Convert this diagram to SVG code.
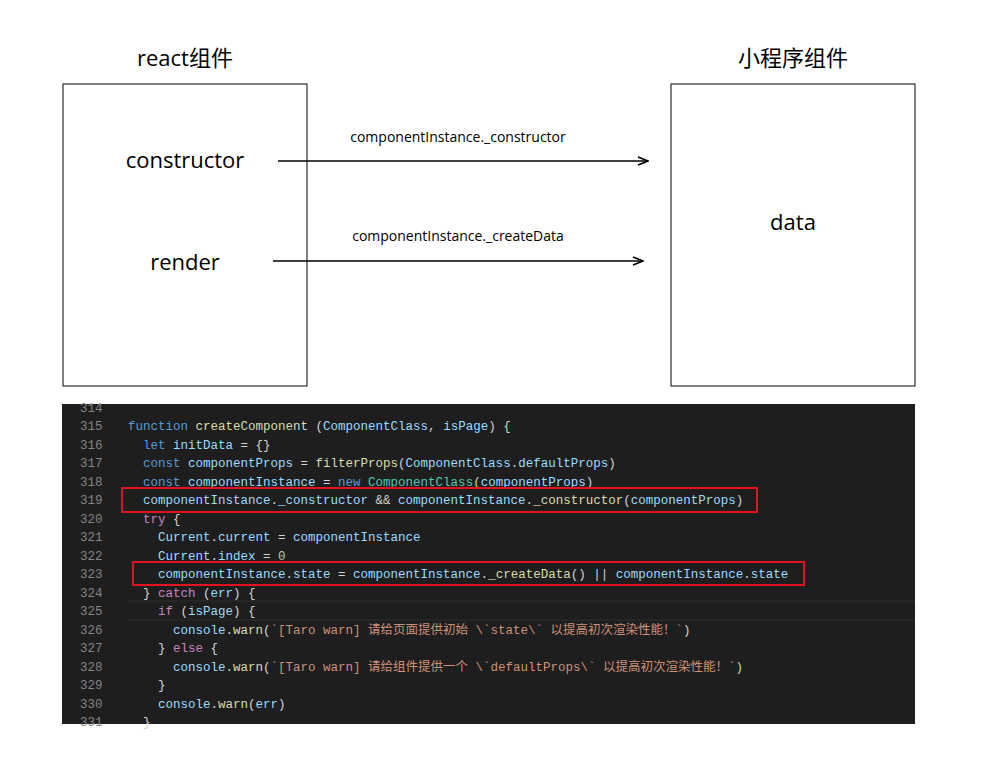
<svg xmlns="http://www.w3.org/2000/svg" width="985" height="761" viewBox="0 0 985 761">
<defs>
<marker id="ah" markerWidth="12" markerHeight="10" refX="11" refY="5" orient="auto" markerUnits="userSpaceOnUse"><path d="M1,1 L11,5 L1,9" fill="none" stroke="#000" stroke-width="1.6"/></marker>
</defs>
<style>
.box{fill:#fff;stroke:#000;stroke-width:1}
.t{font-family:"Open Sans","Noto Sans","Noto Sans CJK SC",sans-serif;fill:#000;text-anchor:middle}
.big{font-size:22px}
.sm{font-size:14px}
.c{font-family:"Liberation Mono","DejaVu Sans Mono","Noto Sans CJK SC",monospace;font-size:12.5px;fill:#d4d4d4}
.n{fill:#858585}
.k{fill:#569cd6}.v{fill:#9cdcfe}.f{fill:#dcdcaa}.p{fill:#c586c0}.s{fill:#ce9178}.num{fill:#b5cea8}.cl{fill:#4ec9b0}
</style>
<rect width="985" height="761" fill="#fff"/>
<g id="react">
<text class="t big" x="185" y="66">react组件</text>
<rect class="box" x="63" y="84" width="244" height="302"/>
<text class="t big" x="185" y="168">constructor</text>
<text class="t big" x="185" y="270">render</text>
</g>
<g id="mini">
<text class="t big" x="793" y="66">小程序组件</text>
<rect class="box" x="671" y="84" width="244" height="302"/>
<text class="t big" x="793" y="230">data</text>
</g>
<g id="connectors" stroke="#000" stroke-width="1.6">
<line x1="278" y1="161" x2="648" y2="161" marker-end="url(#ah)"/>
<line x1="273" y1="261" x2="643" y2="261" marker-end="url(#ah)"/>
</g>
<g id="labels">
<text class="t sm" x="458" y="142">componentInstance._constructor</text>
<text class="t sm" x="458" y="241">componentInstance._createData</text>
</g>
<g id="code">
<rect x="62" y="404" width="853" height="320" fill="#1e1e1e"/>
<line x1="128" y1="601" x2="915" y2="601" stroke="#2c2c2c"/>
<line x1="128" y1="620" x2="915" y2="620" stroke="#2c2c2c"/>
<text class="c n" x="80" y="412">314</text>
<text class="c n" x="80" y="430">315</text>
<text class="c n" x="80" y="449">316</text>
<text class="c n" x="80" y="467">317</text>
<text class="c n" x="80" y="486">318</text>
<text class="c n" x="80" y="504">319</text>
<text class="c n" x="80" y="523">320</text>
<text class="c n" x="80" y="541">321</text>
<text class="c n" x="80" y="560">322</text>
<text class="c n" x="80" y="578">323</text>
<text class="c n" x="80" y="597">324</text>
<text class="c n" x="80" y="615">325</text>
<text class="c n" x="80" y="634">326</text>
<text class="c n" x="80" y="652">327</text>
<text class="c n" x="80" y="671">328</text>
<text class="c n" x="80" y="689">329</text>
<text class="c n" x="80" y="708">330</text>
<text class="c n" x="80" y="726">331</text>
<text class="c" x="128" y="430"><tspan class="k">function</tspan> <tspan class="f">createComponent</tspan> (<tspan class="v">ComponentClass</tspan>, <tspan class="v">isPage</tspan>) {</text>
<text class="c" x="143" y="449"><tspan class="k">let</tspan> <tspan class="v">initData</tspan> = {}</text>
<text class="c" x="143" y="467"><tspan class="k">const</tspan> <tspan class="v">componentProps</tspan> = <tspan class="f">filterProps</tspan>(<tspan class="v">ComponentClass</tspan>.<tspan class="v">defaultProps</tspan>)</text>
<text class="c" x="143" y="486"><tspan class="k">const</tspan> <tspan class="v">componentInstance</tspan> = <tspan class="k">new</tspan> <tspan class="cl">ComponentClass</tspan>(<tspan class="v">componentProps</tspan>)</text>
<text class="c" x="143" y="504"><tspan class="v">componentInstance</tspan>.<tspan class="v">_constructor</tspan> &amp;&amp; <tspan class="v">componentInstance</tspan>.<tspan class="f">_constructor</tspan>(<tspan class="v">componentProps</tspan>)</text>
<text class="c" x="143" y="523"><tspan class="p">try</tspan> {</text>
<text class="c" x="158" y="541"><tspan class="v">Current</tspan>.<tspan class="v">current</tspan> = <tspan class="v">componentInstance</tspan></text>
<text class="c" x="158" y="560"><tspan class="v">Current</tspan>.<tspan class="v">index</tspan> = <tspan class="num">0</tspan></text>
<text class="c" x="158" y="578"><tspan class="v">componentInstance</tspan>.<tspan class="v">state</tspan> = <tspan class="v">componentInstance</tspan>.<tspan class="f">_createData</tspan>() || <tspan class="v">componentInstance</tspan>.<tspan class="v">state</tspan></text>
<text class="c" x="143" y="597">} <tspan class="p">catch</tspan> (<tspan class="v">err</tspan>) {</text>
<text class="c" x="158" y="615"><tspan class="p">if</tspan> (<tspan class="v">isPage</tspan>) {</text>
<text class="c" x="173" y="634"><tspan class="v">console</tspan>.<tspan class="f">warn</tspan>(<tspan class="s">`[Taro warn] 请给页面提供初始 \`state\` 以提高初次渲染性能！`</tspan>)</text>
<text class="c" x="158" y="652">} <tspan class="p">else</tspan> {</text>
<text class="c" x="173" y="671"><tspan class="v">console</tspan>.<tspan class="f">warn</tspan>(<tspan class="s">`[Taro warn] 请给组件提供一个 \`defaultProps\` 以提高初次渲染性能！`</tspan>)</text>
<text class="c" x="158" y="689">}</text>
<text class="c" x="158" y="708"><tspan class="v">console</tspan>.<tspan class="f">warn</tspan>(<tspan class="v">err</tspan>)</text>
<text class="c" x="143" y="726">}</text>
<rect x="122" y="488" width="635" height="24" fill="none" stroke="#e0141e" stroke-width="2"/>
<rect x="133" y="562" width="671" height="23" fill="none" stroke="#e0141e" stroke-width="2"/>
</g>
</svg>
